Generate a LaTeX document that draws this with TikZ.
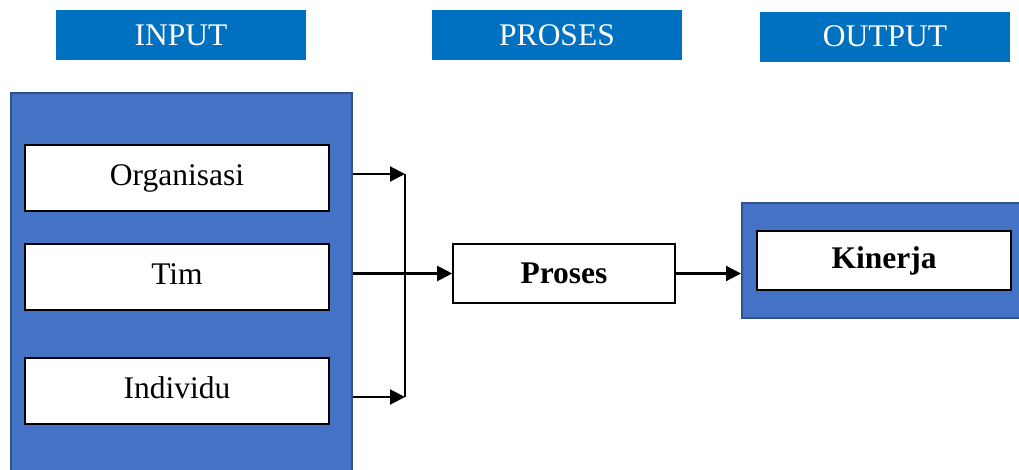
\documentclass[tikz,border=0pt]{standalone}
\usepackage{fontspec}
\setmainfont{Liberation Serif}
\usetikzlibrary{arrows.meta}
\definecolor{headblue}{HTML}{0070C0}
\definecolor{panelblue}{HTML}{4472C4}
\definecolor{paneledge}{HTML}{2F528F}
\tikzset{
  header/.style={fill=headblue, draw=none, text=white, minimum width=250pt, minimum height=50pt,
    inner sep=0pt, font=\fontsize{31.5}{37}\selectfont},
  panel/.style={fill=panelblue, draw=paneledge, line width=2pt, inner sep=0pt},
  itembox/.style={fill=white, draw=black, line width=1.6pt, inner sep=0pt,
    font=\fontsize{31.5}{37}\selectfont},
  conn/.style={draw=black, line width=2.1pt},
  arr/.style={conn, -{Triangle[length=15pt,width=15pt]}},
}
\begin{document}
\begin{tikzpicture}[x=1pt,y=-1pt]
\useasboundingbox (0,0) rectangle (1019,469);
\clip (0,0) rectangle (1019,469);

% column headers
\node[header] (hin)  at (181,35)   {INPUT};
\node[header] (hpro) at (557,35)   {PROSES};
\node[header] (hout) at (885,36.5) {OUTPUT};

% input panel with its three factors
\node[panel, minimum width=341pt, minimum height=400pt] (inpanel) at (181.5,293) {};
\node[itembox, minimum width=304pt, minimum height=66pt] (org) at (177,178) {\raisebox{1pt}{Organisasi}};
\node[itembox, minimum width=304pt, minimum height=66pt] (tim) at (177,277) {\raisebox{6.5pt}{Tim}};
\node[itembox, minimum width=304pt, minimum height=66pt] (ind) at (177,391) {\raisebox{6pt}{Individu}};

% process box
\node[itembox, minimum width=222pt, minimum height=59pt, font=\fontsize{31.5}{37}\selectfont\bfseries] (proses) at (564,273.5) {Proses};

% output panel
\node[panel, minimum width=300pt, minimum height=115pt] (outpanel) at (892,260.5) {};
\node[itembox, minimum width=254pt, minimum height=59pt, font=\fontsize{31.5}{37}\selectfont\bfseries] (kinerja) at (884,260.5) {Kinerja};

% collecting connectors
\coordinate (j1) at (405,174);
\coordinate (j3) at (405,397);
\draw[arr] (inpanel.east |- j1) -- (j1);
\draw[arr] (inpanel.east |- j3) -- (j3);
\draw[conn] (j1) -- (j3);
\draw[arr] (inpanel.east |- proses.west) -- (proses.west);
\draw[arr] (proses.east) -- (proses.east -| outpanel.west);
\end{tikzpicture}
\end{document}
